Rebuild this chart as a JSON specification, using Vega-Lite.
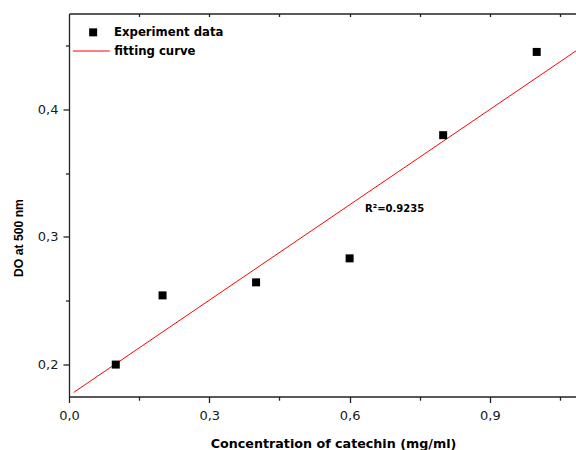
{
  "$schema": "https://vega.github.io/schema/vega-lite/v6.json",
  "width": 507,
  "height": 383,
  "autosize": "none",
  "padding": {"left": 69, "top": 13.5, "right": 0, "bottom": 53.5},
  "background": "white",
  "config": {
    "view": {"stroke": null},
    "axis": {
      "grid": false,
      "domainColor": "#222222",
      "tickColor": "#222222",
      "domainWidth": 1.3,
      "tickWidth": 1.3,
      "labelFont": "DejaVu Sans",
      "labelFontSize": 13,
      "labelColor": "#1a1a1a",
      "titleColor": "#000000"
    }
  },
  "datasets": {
    "measured": [
      {"conc": 0.1, "absorbance": 0.2, "series": "Experiment data"},
      {"conc": 0.2, "absorbance": 0.2542, "series": "Experiment data"},
      {"conc": 0.4, "absorbance": 0.2644, "series": "Experiment data"},
      {"conc": 0.6, "absorbance": 0.2832, "series": "Experiment data"},
      {"conc": 0.8, "absorbance": 0.3797, "series": "Experiment data"},
      {"conc": 1.0, "absorbance": 0.4449, "series": "Experiment data"}
    ],
    "fit": [
      {"conc": 0.01, "absorbance": 0.1782, "series": "fitting curve"},
      {"conc": 1.084, "absorbance": 0.4457, "series": "fitting curve"}
    ],
    "note": [
      {"conc": 0.633, "absorbance": 0.3215, "label": "R²=0.9235"}
    ]
  },
  "layer": [
    {
      "data": {"name": "fit"},
      "mark": {"type": "line", "strokeWidth": 1, "clip": true},
      "encoding": {
        "x": {
          "field": "conc",
          "type": "quantitative",
          "scale": {"domain": [0, 1.084], "nice": false, "zero": false},
          "axis": {
            "orient": "bottom",
            "values": [0, 0.15, 0.3, 0.45, 0.6, 0.75, 0.9, 1.05],
            "tickSize": {"condition": {"test": "round(datum.value*100) % 30 != 0", "value": 3.7}, "value": 6},
            "labelExpr": "round(datum.value*100) % 30 == 0 ? replace(format(datum.value, '.1f'), '.', ',') : ''",
            "labelPadding": 7,
            "labelFlush": false,
            "title": "Concentration of catechin (mg/ml)",
            "titleFont": "DejaVu Sans",
            "titleFontWeight": "bold",
            "titleFontSize": 12.7,
            "titleX": 264,
            "titleY": 47,
            "titleAlign": "center",
            "titleBaseline": "middle"
          }
        },
        "y": {
          "field": "absorbance",
          "type": "quantitative",
          "scale": {"domain": [0.175, 0.475], "nice": false, "zero": false},
          "axis": {
            "orient": "left",
            "values": [0.2, 0.25, 0.3, 0.35, 0.4, 0.45],
            "tickSize": {"condition": {"test": "round(datum.value*100) % 10 != 0", "value": 3.5}, "value": 6},
            "labelExpr": "round(datum.value*100) % 10 == 0 ? replace(format(datum.value, '.1f'), '.', ',') : ''",
            "labelPadding": 5,
            "labelFlush": false,
            "title": "DO at 500 nm",
            "titleFont": "Liberation Sans",
            "titleFontWeight": "bold",
            "titleFontSize": 12.2,
            "titleAngle": -90,
            "titleX": -51,
            "titleY": 224,
            "titleAlign": "center",
            "titleBaseline": "middle"
          }
        },
        "stroke": {
          "field": "series",
          "type": "nominal",
          "scale": {"range": ["#ff0000"]},
          "legend": {
            "orient": "none",
            "legendX": 3.3,
            "legendY": 18.5,
            "title": null,
            "padding": 0,
            "symbolType": "stroke",
            "symbolSize": 1369,
            "symbolStrokeWidth": 1,
            "labelOffset": 4,
            "labelFont": "DejaVu Sans",
            "labelFontWeight": "bold",
            "labelFontSize": 11.7,
            "labelColor": "#000000"
          }
        }
      }
    },
    {
      "data": {"name": "measured"},
      "mark": {"type": "point", "shape": "square", "filled": true, "size": 64, "opacity": 1},
      "encoding": {
        "x": {
          "field": "conc",
          "type": "quantitative",
          "axis": {
            "orient": "top",
            "values": [0.15, 0.3, 0.45, 0.6, 0.75, 0.9, 1.05],
            "tickSize": -3,
            "labels": false,
            "title": null
          }
        },
        "y": {"field": "absorbance", "type": "quantitative", "axis": null},
        "fill": {
          "field": "series",
          "type": "nominal",
          "scale": {"range": ["#000000"]},
          "legend": {
            "orient": "none",
            "legendX": 18.3,
            "legendY": 13,
            "title": null,
            "padding": 0,
            "symbolType": "square",
            "symbolSize": 64,
            "symbolStrokeWidth": 0,
            "labelOffset": 15,
            "labelFont": "DejaVu Sans",
            "labelFontWeight": "bold",
            "labelFontSize": 11.7,
            "labelColor": "#000000"
          }
        }
      }
    },
    {
      "data": {"name": "note"},
      "mark": {"type": "text", "align": "left", "baseline": "middle", "font": "DejaVu Sans", "fontWeight": "bold", "fontSize": 10, "color": "#000000"},
      "encoding": {
        "x": {"field": "conc", "type": "quantitative", "axis": null},
        "y": {"field": "absorbance", "type": "quantitative", "axis": null},
        "text": {"field": "label"}
      }
    }
  ],
  "resolve": {"axis": {"x": "independent", "y": "independent"}}
}
